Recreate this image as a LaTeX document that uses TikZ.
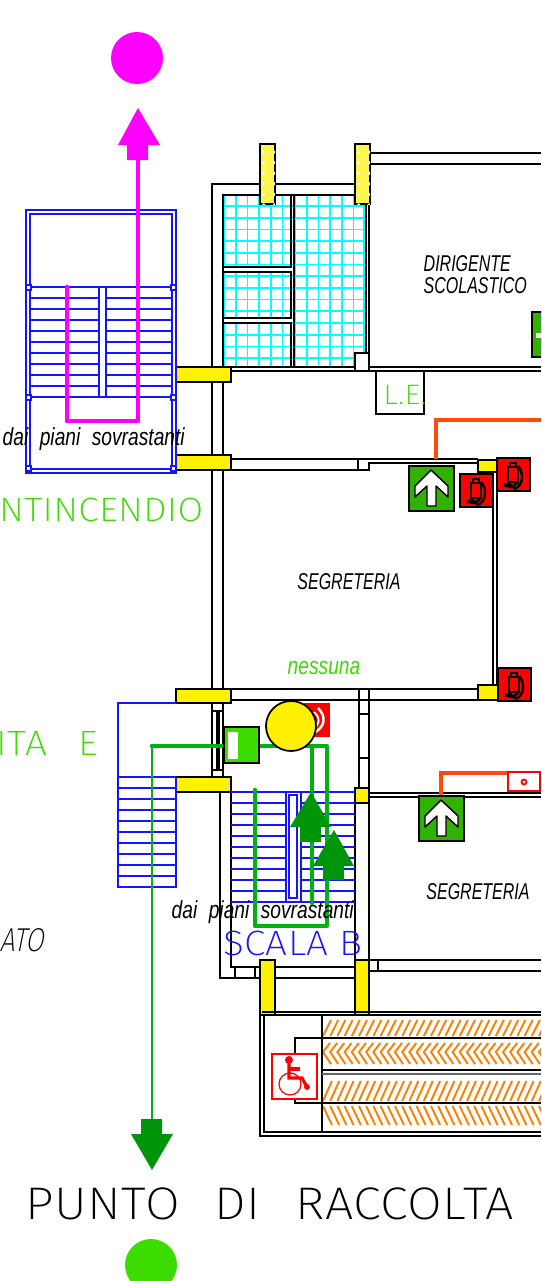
\documentclass[tikz,border=0pt]{standalone}
\usepackage{fontspec}
\usepackage{tikz}
\usetikzlibrary{calc,patterns}

\newfontfamily\labelfont[FakeStretch=0.70]{Liberation Sans}
\newfontfamily\smallfont[FakeStretch=0.78]{Liberation Sans}
\newfontfamily\cadfont[FakeStretch=1.1,LetterSpace=1]{Fira Sans ExtraLight}
\newfontfamily\cadnarrow[FakeStretch=0.8,FakeSlant=0.2]{Fira Sans ExtraLight}

\definecolor{escapegreen}{RGB}{0,176,20}
\definecolor{arrowgreen}{RGB}{0,148,10}
\definecolor{signgreen}{RGB}{50,178,0}
\definecolor{textgreen}{RGB}{60,220,0}
\definecolor{routeorange}{RGB}{255,75,10}
\definecolor{hatchorange}{RGB}{255,128,0}
\definecolor{stairblue}{RGB}{20,20,255}
\definecolor{gridcyan}{RGB}{0,255,255}
\definecolor{pathmagenta}{RGB}{255,0,255}

\tikzset{
  wall/.style={color=black, line width=0.38pt},
  pillar/.style={draw=black, line width=0.6pt, fill=yellow},
  stair/.style={color=stairblue, line width=0.38pt},
  gridline/.style={color=gridcyan, line width=0.5pt},
  hatchline/.style={color=hatchorange, line width=0.55pt},
  italiclabel/.style={inner sep=0pt, font=\labelfont\itshape\fontsize{6.5}{7.5}\selectfont},
  smalllabel/.style={inner sep=0pt, font=\smallfont\itshape\fontsize{7}{8}\selectfont},
  route/.style={color=escapegreen, line width=1.3pt, line cap=round, line join=round},
  redbox/.style={draw=black, line width=0.5pt, fill=red},
}

\newcommand{\extinguisher}[2]{
  \begin{scope}[shift={(#1,#2)}]
    \draw[redbox] (0,0) rectangle (33,33);
    \draw[color=black, line width=0.6pt] (11,9) rectangle (21,24);
    \draw[color=black, line width=0.6pt] (13,5) rectangle (19,9);
    \draw[color=black, line width=1pt] (7,27) -- (18,29);
    \draw[color=black, line width=0.6pt] (11,24) -- (15,29) -- (21,24);
    \draw[color=black, line width=0.7pt] (21,8) .. controls (27,14) and (27,28) .. (17,31);
  \end{scope}
}
\newcommand{\exitsign}[2]{
  \begin{scope}[shift={(#1,#2)}]
    \draw[draw=black, line width=0.6pt, fill=signgreen] (0,0) rectangle (45,45);
    \draw[draw=black, line width=0.4pt, fill=white, line join=round]
      (22,4) -- (39,20) -- (39,31) -- (27,20) -- (27,40) -- (18,40) -- (18,20) -- (6,31) -- (6,20) -- cycle;
  \end{scope}
}

\begin{document}
\begin{tikzpicture}[x=0.01cm,y=-0.01cm]
  \clip (0,0) rectangle (541,1281);
  \fill[white] (0,0) rectangle (541,1281);

  \foreach \k in {0,...,5} {
    \draw[gridline] ({224+11.7*\k},195) -- ({224+11.7*\k},367);
    \draw[gridline] ({295+11.7*\k},195) -- ({295+11.7*\k},367);
  }
  \draw[gridline] (364,195) -- (364,367);
  \foreach \k in {0,...,13} {
    \draw[gridline] (224,{206+11.7*\k}) -- (366,{206+11.7*\k});
  }
  \fill[white] (223,267) rectangle (291,272);
  \fill[white] (223,318) rectangle (291,323);

  \draw[wall] (212,689) -- (212,184) -- (355,184);
  \draw[wall] (223,689) -- (223,195) -- (366,195);
  \draw[wall] (223,267) -- (291,267) -- (291,195);
  \draw[wall] (223,272) rectangle (291,318);
  \draw[wall] (223,323) -- (291,323) -- (291,367);
  \draw[wall] (294,195) -- (294,367);
  \draw[wall] (366,204) -- (366,353);
  \draw[wall, line width=0.6pt] (369,204) -- (369,371);
  \draw[wall] (232,367) -- (541,367);
  \draw[wall] (232,371) -- (541,371);
  \draw[wall, fill=white] (355,353) rectangle (369,371);
  \draw[wall] (370,153) -- (541,153);
  \draw[wall] (370,164) -- (541,164);

  \draw[wall] (376,371) rectangle (424,414);

  \draw[wall] (231,459) -- (478,459);
  \draw[wall] (231,470) -- (369,470) -- (369,463) -- (478,463);
  \draw[wall] (358,459) -- (358,470);
  \draw[wall] (493,472) -- (493,686);
  \draw[wall] (497,472) -- (497,686);

  \draw[wall] (231,689) -- (478,689);
  \draw[wall] (231,700) -- (478,700);
  \draw[wall] (212,700) -- (212,777);
  \draw[wall] (223,700) -- (223,777);
  \draw[wall] (212,711) -- (223,711);
  \draw[wall] (212,770) -- (223,770);
  \draw[color=black, line width=1pt] (218,711) -- (218,770);

  \draw[wall] (359,689) -- (359,788);
  \draw[wall] (369,689) -- (369,788);
  \draw[wall] (359,714) -- (369,714);
  \draw[wall] (359,758) -- (369,758);
  \draw[wall] (369,793) -- (541,793);
  \draw[wall] (369,797) -- (541,797);
  \draw[wall] (220,792) -- (220,978) -- (355,978);
  \draw[wall] (231,792) -- (231,967) -- (355,967);
  \draw[wall] (235,967) -- (235,978);
  \draw[wall] (255,967) -- (255,978);
  \draw[wall, line width=0.6pt] (355,803) -- (355,960);
  \draw[wall] (369,803) -- (369,960);
  \draw[wall] (369,960) -- (541,960);
  \draw[wall] (369,971) -- (541,971);
  \draw[wall] (378,960) -- (378,971);

  \draw[pillar, fill=yellow!70!white] (260,144) rectangle (275,204);
  \draw[pillar, fill=yellow!70!white] (355,144) rectangle (370,204);
  \fill[pattern=dots, pattern color=white] (260,144) rectangle (275,204);
  \fill[pattern=dots, pattern color=white] (355,144) rectangle (370,204);
  \draw[pillar] (176,367) rectangle (231,382);
  \draw[pillar] (176,455) rectangle (231,470);
  \draw[pillar] (478,460) rectangle (498,472);
  \draw[pillar] (478,685) rectangle (498,700);
  \draw[pillar] (176,689) rectangle (231,703);
  \draw[pillar] (176,777) rectangle (231,792);
  \draw[pillar] (355,788) rectangle (369,803);
  \draw[pillar] (260,960) rectangle (275,1015);
  \draw[pillar] (355,960) rectangle (369,1015);

  \draw[stair] (26,210) rectangle (176,473);
  \draw[stair] (30,214) rectangle (172,469);
  \foreach \k in {0,...,10} {
    \draw[stair] (30,{287+11*\k}) -- (99,{287+11*\k});
    \draw[stair] (106,{287+11*\k}) -- (172,{287+11*\k});
  }
  \draw[stair] (99,287) rectangle (106,397);
  \foreach \a/\b in {26/285,171/285,26/395,171/395,26/466,171/466} {
    \draw[stair, fill=white] (\a,\b) rectangle +(5,5);
  }

  \draw[stair] (176,703) -- (118,703) -- (118,887) -- (176,887) -- (176,777);
  \foreach \k in {0,...,9} {
    \draw[stair] (118,{777+11*\k}) -- (176,{777+11*\k});
  }

  \foreach \k in {0,...,10} {
    \draw[stair] (231,{792+11*\k}) -- (286,{792+11*\k});
    \draw[stair] (301,{792+11*\k}) -- (355,{792+11*\k});
  }
  \draw[stair] (286,792) rectangle (301,902);
  \draw[stair] (289,795) rectangle (297,898);

  \fill[color=pathmagenta] (137,58) circle (26);
  \draw[color=pathmagenta, line width=1.4pt, line join=round, line cap=round] (67,287) -- (67,421) -- (138,421) -- (138,150);
  \fill[color=pathmagenta] (138,108) -- (160,145) -- (148,145) -- (148,160) -- (127,160) -- (127,145) -- (118,145) -- cycle;

  \draw[color=routeorange, line width=1.4pt] (436,459) -- (436,420) -- (541,420);
  \draw[color=routeorange, line width=1.4pt] (441,796) -- (441,773) -- (508,773);
  \draw[draw=red, line width=0.4pt, fill=white] (508,772) rectangle (540,791);
  \draw[color=red, line width=0.5pt] (524,782) circle (2.5);

  \exitsign{409}{466}
  \exitsign{419}{796}
  \draw[draw=black, line width=0.6pt, fill=signgreen] (532,312) rectangle (560,357);
  \fill[white] (536,333) rectangle (541,338);

  \extinguisher{460}{474}
  \extinguisher{497}{458}
  \extinguisher{498}{668}

  \draw[route] (152,746) -- (226,746);
  \draw[color=escapegreen, line width=0.6pt] (152,746) -- (152,1125);
  \draw[route] (258,746) -- (327,746) -- (327,926) -- (255,926) -- (255,790);
  \draw[route] (312,746) -- (312,903);

  \fill[color=red] (304,703) rectangle (330,737);
  \draw[color=white, line width=0.7pt] (318,708) .. controls (326,716) and (326,726) .. (314,733);
  \draw[color=white, line width=0.5pt] (314,712) .. controls (321,718) and (320,726) .. (312,729);
  \draw[draw=black, line width=0.5pt, fill=yellow] (291,726) circle (25);

  \draw[draw=black, line width=0.6pt, fill=textgreen] (224,727) rectangle (259,763);
  \fill[white] (228,732) rectangle (238,759);

  \fill[color=arrowgreen] (311,792) -- (331,827) -- (321,827) -- (321,842) -- (300,842) -- (300,827) -- (290,827) -- cycle;
  \fill[color=arrowgreen] (334,830) -- (354,866) -- (344,866) -- (344,880) -- (323,880) -- (323,866) -- (313,866) -- cycle;
  \fill[color=arrowgreen] (152,1170) -- (173,1134) -- (162,1134) -- (162,1119) -- (141,1119) -- (141,1134) -- (131,1134) -- cycle;

  \fill[color=textgreen] (151,1265) circle (26);

  \foreach \k in {0,...,30} {
    \draw[hatchline] ({323+7.2*\k},1036) -- ({331+7.2*\k},1020);
    \draw[hatchline] ({330+7.2*\k},1043) -- ({323+7.2*\k},1052) -- ({331+7.2*\k},1064);
    \draw[hatchline] ({323+7.2*\k},1101) -- ({332+7.2*\k},1081);
    \draw[hatchline] ({323+7.2*\k},1106) -- ({332+7.2*\k},1125);
  }
  \draw[wall] (262,1012) -- (541,1012);
  \draw[wall, line width=0.6pt] (541,1015) -- (260,1015) -- (260,1136) -- (541,1136);
  \draw[wall] (264,1015) -- (264,1132) -- (541,1132);
  \draw[wall, line width=0.5pt] (322,1015) -- (322,1132);
  \draw[wall, line width=0.5pt] (295,1054) -- (295,1038) -- (541,1038);
  \draw[wall, line width=0.5pt] (322,1070) -- (541,1070);
  \draw[color=black!60, line width=0.5pt] (322,1074) -- (541,1074);
  \draw[wall, line width=0.5pt] (295,1098) -- (295,1103) -- (541,1103);

  \draw[draw=red, line width=0.8pt, fill=white] (272,1054) rectangle (317,1099);
  \fill[color=red] (289,1060) circle (4);
  \draw[color=red, line width=0.9pt] (289,1062) -- (289,1078) -- (302,1078) -- (307,1087);
  \draw[color=red, line width=0.9pt] (289,1069) -- (300,1069);
  \fill[color=red] (307,1087) circle (3);
  \draw[color=red, line width=0.35pt] (290,1084) circle (11);

  \node[italiclabel, anchor=west] (dirigente) at (423,264) {DIRIGENTE};
  \node[italiclabel, anchor=west] (scolastico) at (423,286) {SCOLASTICO};
  \node[italiclabel] (segreteriaup) at (349,582) {SEGRETERIA};
  \node[italiclabel] (segreteriadown) at (478,892) {SEGRETERIA};
  \node[smalllabel, color=textgreen] (nessuna) at (324,668) {nessuna};
  \node[smalllabel, anchor=west] (dailup) at (2,439) {dai\hspace{0.115cm}piani\hspace{0.115cm}sovrastanti};
  \node[smalllabel, anchor=west] (daildown) at (171,912) {dai\hspace{0.115cm}piani\hspace{0.115cm}sovrastanti};

  \node[inner sep=0pt, anchor=east, color=textgreen, font=\cadfont\fontsize{9.6}{11}\selectfont] (antincendio) at (204,510) {NTINCENDIO};
  \node[inner sep=0pt, anchor=east, color=textgreen, font=\cadfont\fontsize{10}{11}\selectfont] (uscita) at (99,743) {ITA\hspace{0.32cm}E};
  \node[inner sep=0pt, anchor=east, color=black, font=\cadnarrow\fontsize{9.4}{11}\selectfont] (piano) at (44,940) {ATO};
  \node[inner sep=0pt, color=textgreen, font=\cadfont\fontsize{8}{9}\selectfont] (le) at (405,395) {L.E.};
  \node[inner sep=0pt, color=stairblue, font=\cadfont\fontsize{10}{11}\selectfont] (scalab) at (293,943) {SCALA B};
  \node[inner sep=0pt, color=black, font=\cadfont\fontsize{13}{14}\selectfont] (raccolta) at (270,1204) {PUNTO\hspace{0.35cm}DI\hspace{0.35cm}RACCOLTA};
\end{tikzpicture}
\end{document}
